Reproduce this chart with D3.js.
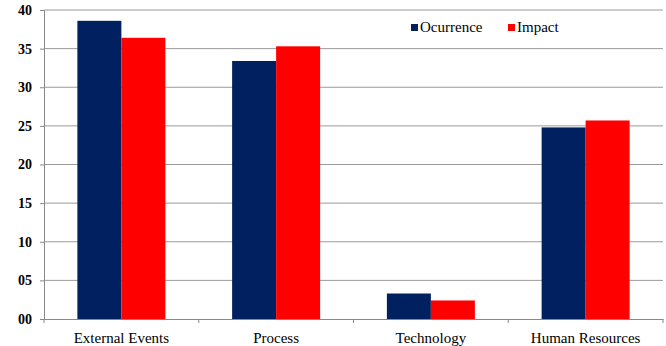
<!DOCTYPE html>
<html>
<head>
<meta charset="utf-8">
<script src="https://cdn.jsdelivr.net/npm/d3@7"></script>
<style>
  html, body { margin: 0; padding: 0; background: #fff; }
</style>
</head>
<body>
<div id="chart"></div>
<script>
// Data
const categories = ["External Events", "Process", "Technology", "Human Resources"];
const series = ["Ocurrence", "Impact"];
const ocurrence = [38.6, 33.4, 3.3, 24.8];
const impact = [36.4, 35.3, 2.4, 25.7];
const tickValues = [0, 5, 10, 15, 20, 25, 30, 35, 40];
const tickLabels = ["00", "05", "10", "15", "20", "25", "30", "35", "40"];

const colors = {Ocurrence: "#002060", Impact: "#ff0000"};

// Dimensions
const W = 666, H = 346;
const margin = {top: 10, right: 3, bottom: 27, left: 44},
      width = W - margin.left - margin.right,
      height = H - margin.top - margin.bottom;

const svg = d3.select("#chart")
  .append("svg")
    .attr("width", W)
    .attr("height", H)
  .append("g")
    .attr("transform", `translate(${margin.left},${margin.top})`);

const rows = categories.map((c, i) => ({cat: c, Ocurrence: ocurrence[i], Impact: impact[i]}));

// Scales
const x0 = d3.scaleBand()
  .domain(categories)
  .range([0, width])
  .padding(0);

const groupPad = (x0.bandwidth() - 88) / 2;
const x1 = d3.scaleBand()
  .domain(series)
  .range([groupPad, x0.bandwidth() - groupPad])
  .padding(0);

const y = d3.scaleLinear()
  .domain([0, 40])
  .range([height, 0]);

// Gridlines
svg.append("g")
  .selectAll("line")
  .data(tickValues.filter(d => d > 0))
  .enter()
  .append("line")
    .attr("x1", 0)
    .attr("x2", width)
    .attr("y1", d => y(d))
    .attr("y2", d => y(d))
    .attr("stroke", "#9a9a9a")
    .attr("stroke-width", 1);

// Bars
svg.append("g")
  .selectAll("g")
  .data(rows)
  .enter()
  .append("g")
    .attr("transform", d => `translate(${x0(d.cat)},0)`)
  .selectAll("rect")
  .data(d => series.map(s => ({key: s, value: d[s]})))
  .enter()
  .append("rect")
    .attr("x", d => x1(d.key))
    .attr("y", d => y(d.value))
    .attr("width", x1.bandwidth())
    .attr("height", d => height - y(d.value))
    .attr("fill", d => colors[d.key]);

// Y axis
const yAxis = svg.append("g")
  .call(d3.axisLeft(y)
    .tickValues(tickValues)
    .tickSize(4)
    .tickPadding(8)
    .tickFormat((d, i) => tickLabels[i]));
yAxis.attr("font-family", "'Liberation Serif', 'Times New Roman', serif");
yAxis.select(".domain").attr("stroke", "#888");
yAxis.selectAll(".tick line").attr("stroke", "#888");
yAxis.selectAll("text")
  .style("font-family", "'Liberation Serif', 'Times New Roman', serif")
  .style("font-size", "14px")
  .style("font-weight", "bold")
  .attr("fill", "#000");

// X axis
const xAxis = svg.append("g")
  .attr("transform", `translate(0,${height})`)
  .call(d3.axisBottom(x0).tickSize(0).tickPadding(13));
xAxis.attr("font-family", "'Liberation Serif', 'Times New Roman', serif");
xAxis.select(".domain").attr("stroke", "#888");
xAxis.selectAll("text")
  .style("font-family", "'Liberation Serif', 'Times New Roman', serif")
  .style("font-size", "15px")
  .attr("fill", "#000");

// Category separator ticks
svg.append("g")
  .selectAll("line")
  .data(d3.range(categories.length + 1))
  .enter()
  .append("line")
    .attr("x1", i => i * x0.step())
    .attr("x2", i => i * x0.step())
    .attr("y1", height)
    .attr("y2", height + 4)
    .attr("stroke", "#888");

// Legend
const legend = svg.append("g")
  .attr("transform", `translate(${411 - margin.left}, ${28 - margin.top})`);

const legendX = [0, 97];
series.forEach((s, i) => {
  legend.append("rect")
    .attr("x", legendX[i])
    .attr("y", -4)
    .attr("width", 7)
    .attr("height", 7)
    .attr("fill", colors[s]);
  legend.append("text")
    .attr("x", legendX[i] + 9)
    .attr("y", 4)
    .style("font-family", "'Liberation Serif', 'Times New Roman', serif")
    .style("font-size", "15px")
    .text(s);
});
</script>
</body>
</html>
